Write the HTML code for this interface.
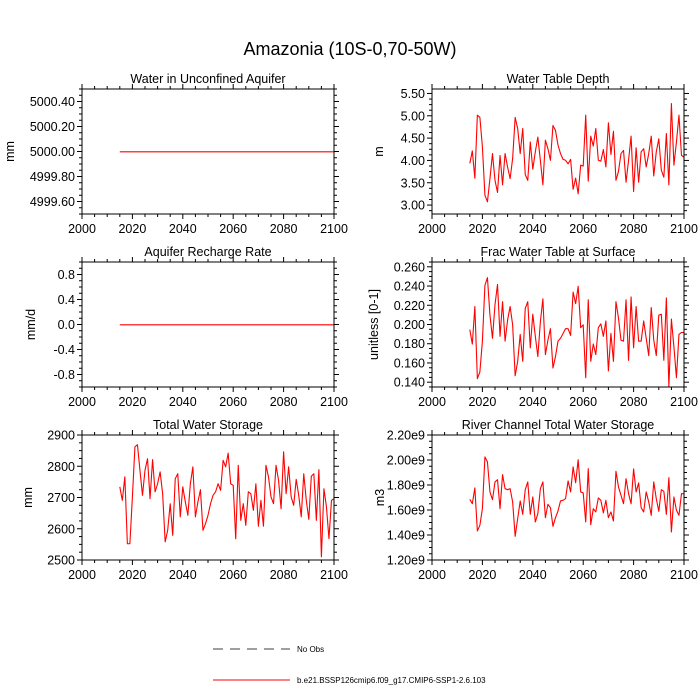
<!DOCTYPE html>
<html><head><meta charset="utf-8"><style>
html,body{margin:0;padding:0;background:#fff;}
svg{display:block;font-family:"Liberation Sans",sans-serif;}
</style></head><body>
<svg id="chart" width="700" height="700" viewBox="0 0 700 700" xmlns="http://www.w3.org/2000/svg">
<rect width="700" height="700" fill="#fff"/>
<text x="350" y="55" font-size="18" text-anchor="middle">Amazonia (10S-0,70-50W)</text>
<g>
<line x1="213" y1="649" x2="290" y2="649" stroke="#000" stroke-width="0.8" stroke-dasharray="10,7"/>
<text x="297" y="652" font-size="8">No Obs</text>
<line x1="213" y1="680" x2="290" y2="680" stroke="#f00" stroke-width="1"/>
<text x="297" y="683" font-size="8">b.e21.BSSP126cmip6.f09_g17.CMIP6-SSP1-2.6.103</text>
</g>
</svg>
<script>
const startYear = 2015;
const xTickLabels = ["2000","2020","2040","2060","2080","2100"];
const aquiferValues = new Array(86).fill(5000.0);
const rechargeValues = new Array(86).fill(0.0);
const waterTableDepth = [3.94,4.22,3.61,5.02,4.97,4.31,3.23,3.08,3.6,4.16,3.56,3.29,4.12,3.46,4.16,3.86,3.6,4.05,4.97,4.72,4.16,4.72,3.69,3.56,4.42,3.81,4.2,4.53,4.01,3.46,4.46,4.27,4.01,4.79,4.68,4.35,4.16,4.03,4.01,3.93,4.03,3.36,3.61,3.26,3.9,3.88,5.02,3.54,4.55,4.33,4.72,4.01,3.99,4.25,3.86,4.85,4.14,4.66,3.56,3.76,4.16,4.23,3.52,4.01,4.55,3.31,4.29,3.52,4.2,4.27,3.86,4.16,4.55,3.66,4.2,4.49,3.79,3.63,4.61,3.46,5.28,3.9,4.42,5.02,4.12,4.08];
const fracWaterTable = [0.195,0.180,0.219,0.144,0.151,0.183,0.241,0.249,0.210,0.186,0.221,0.242,0.188,0.224,0.183,0.205,0.219,0.200,0.147,0.162,0.190,0.162,0.217,0.224,0.176,0.211,0.188,0.167,0.203,0.227,0.169,0.184,0.196,0.155,0.167,0.183,0.186,0.191,0.196,0.196,0.189,0.234,0.222,0.240,0.197,0.200,0.145,0.226,0.162,0.180,0.169,0.197,0.201,0.188,0.204,0.152,0.191,0.162,0.224,0.207,0.184,0.183,0.226,0.163,0.229,0.176,0.219,0.183,0.183,0.204,0.186,0.168,0.218,0.184,0.168,0.210,0.211,0.163,0.228,0.136,0.206,0.177,0.145,0.190,0.192,0.192];
const totalWaterStorage = [2735,2692,2767,2553,2553,2703,2863,2870,2788,2708,2788,2825,2697,2822,2719,2745,2783,2713,2559,2596,2681,2580,2761,2777,2639,2735,2687,2644,2745,2799,2639,2687,2726,2596,2617,2644,2681,2708,2719,2745,2724,2820,2799,2843,2745,2740,2569,2804,2628,2681,2612,2719,2713,2660,2745,2609,2692,2609,2804,2767,2703,2681,2804,2756,2665,2847,2713,2799,2703,2676,2759,2708,2639,2777,2692,2631,2769,2777,2628,2790,2511,2729,2671,2569,2692,2697];
const riverStorage = [1.688e9,1.653e9,1.779e9,1.435e9,1.48e9,1.613e9,2.027e9,1.987e9,1.747e9,1.685e9,1.827e9,1.845e9,1.613e9,1.885e9,1.773e9,1.765e9,1.773e9,1.667e9,1.392e9,1.533e9,1.675e9,1.568e9,1.765e9,1.827e9,1.568e9,1.707e9,1.507e9,1.573e9,1.773e9,1.827e9,1.541e9,1.648e9,1.621e9,1.472e9,1.541e9,1.595e9,1.675e9,1.68e9,1.693e9,1.835e9,1.747e9,1.947e9,1.821e9,2.005e9,1.747e9,1.739e9,1.507e9,1.933e9,1.485e9,1.613e9,1.587e9,1.699e9,1.68e9,1.579e9,1.68e9,1.541e9,1.587e9,1.515e9,1.912e9,1.787e9,1.72e9,1.653e9,1.853e9,1.733e9,1.653e9,1.931e9,1.747e9,1.819e9,1.621e9,1.587e9,1.747e9,1.667e9,1.56e9,1.827e9,1.693e9,1.592e9,1.765e9,1.752e9,1.568e9,1.861e9,1.427e9,1.707e9,1.6e9,1.56e9,1.733e9,1.733e9];
const aquiferTicks = ["4999.60","4999.80","5000.00","5000.20","5000.40"];
const rechargeTicks = ["-0.8","-0.4","0.0","0.4","0.8"];
const depthTicks = ["3.00","3.50","4.00","4.50","5.00","5.50"];
const fracTicks = ["0.140","0.160","0.180","0.200","0.220","0.240","0.260"];
const twsTicks = ["2500","2600","2700","2800","2900"];
const riverTicks = ["1.20e9","1.40e9","1.60e9","1.80e9","2.00e9","2.20e9"];

const NS = "http://www.w3.org/2000/svg";
const svg = document.getElementById('chart');
function mk(tag, attrs, parent){const e=document.createElementNS(NS,tag);for(const k in attrs)e.setAttribute(k,attrs[k]);(parent||svg).appendChild(e);return e;}

const panels = [
 {name:'aquifer', title:'Water in Unconfined Aquifer', ylab:'mm', x:82, y:89, min:4999.5, max:5000.5, ticks:aquiferTicks, data:aquiferValues, yl:8},
 {name:'water-table-depth', title:'Water Table Depth', ylab:'m', x:432, y:89, min:2.8, max:5.6, ticks:depthTicks, data:waterTableDepth, yl:377},
 {name:'recharge', title:'Aquifer Recharge Rate', ylab:'mm/d', x:82, y:262, min:-1, max:1, ticks:rechargeTicks, data:rechargeValues, yl:29},
 {name:'frac-water-table', title:'Frac Water Table at Surface', ylab:'unitless [0-1]', x:432, y:262, min:0.135, max:0.265, ticks:fracTicks, data:fracWaterTable, yl:372},
 {name:'total-water-storage', title:'Total Water Storage', ylab:'mm', x:82, y:435, min:2500, max:2900, ticks:twsTicks, data:totalWaterStorage, yl:26},
 {name:'river-storage', title:'River Channel Total Water Storage', ylab:'m3', x:432, y:435, min:1.2e9, max:2.2e9, ticks:riverTicks, data:riverStorage, yl:378}
];
const W=252, H=125;
panels.forEach(p=>{
  const g = mk('g',{});
  
  
  const xs = yr => p.x + (yr-2000)/100*W;
  const ys = v => p.y + H - (v-p.min)/(p.max-p.min)*H;
  const t = mk('text',{x:p.x+W/2, y:p.y-6, 'font-size':12.5, 'text-anchor':'middle'}, g);
  t.textContent = p.title;
  
  
  for(let yr=2000; yr<=2100; yr+=5){
    const major = yr%20===0, L = major?5:3, X = xs(yr);
    mk('line',{x1:X,y1:p.y+H,x2:X,y2:p.y+H+L,stroke:'#000','stroke-width':1},g);
    mk('line',{x1:X,y1:p.y,x2:X,y2:p.y-L,stroke:'#000','stroke-width':1},g);
  }
  xTickLabels.forEach(s=>{
    const lab = mk('text',{x:xs(+s), y:p.y+H+19, 'font-size':12.5, 'text-anchor':'middle'}, g);
    lab.textContent = s;
    
    
  });
  const tv = p.ticks.map(Number);
  const step = tv[1]-tv[0];
  for(let k=-4; k<=(tv.length+1)*4; k++){
    const v = tv[0] + k*step/4;
    if(v<p.min-step*1e-6||v>p.max+step*1e-6) continue;
    const Y = ys(v), major = k%4===0, L=major?5:3;
    mk('line',{x1:p.x,y1:Y,x2:p.x-L,y2:Y,stroke:'#000','stroke-width':1},g);
    mk('line',{x1:p.x+W,y1:Y,x2:p.x+W+L,y2:Y,stroke:'#000','stroke-width':1},g);
  }
  p.ticks.forEach(s=>{
    const lab = mk('text',{x:p.x-7, y:ys(+s)+4.5, 'font-size':12.5, 'text-anchor':'end'}, g);
    lab.textContent = s;
    
    
  });
  const yt = mk('text',{x:p.yl+6, y:p.y+H/2, 'font-size':12.5, 'text-anchor':'middle', transform:`rotate(-90 ${p.yl+6} ${p.y+H/2})`}, g);
  yt.textContent = p.ylab;
  
  
  const pts = p.data.map((v,i)=>xs(startYear+i).toFixed(2)+','+(ys(v)+0.3).toFixed(2)).join(' ');
  const line = mk('polyline',{points:pts, fill:'none', stroke:'#ff0000', 'stroke-width':1.1, 'stroke-linejoin':'round'}, g);
  
  
  const fr = mk('rect',{x:p.x,y:p.y,width:W,height:H,fill:'none',stroke:'#000','stroke-width':1}, g);
  
  
});
</script>
</body></html>
